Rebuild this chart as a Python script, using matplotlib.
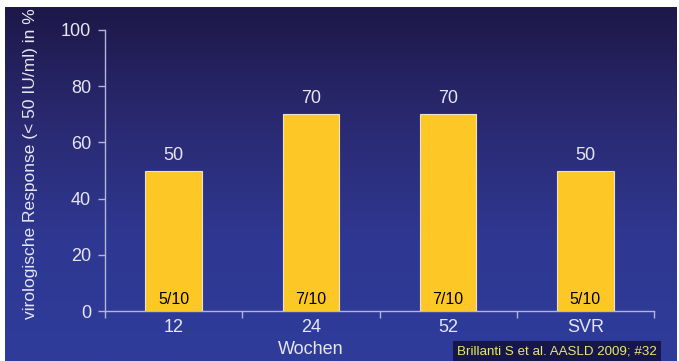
import numpy as np
import matplotlib.pyplot as plt
from matplotlib.colors import LinearSegmentedColormap

plt.rcParams["font.family"] = ["Liberation Sans", "DejaVu Sans"]

categories = ["12", "24", "52", "SVR"]
response = [50, 70, 70, 50]
counts = ["5/10", "7/10", "7/10", "5/10"]
yticks = [0, 20, 40, 60, 80, 100]

W, H = 679, 361
fig = plt.figure(figsize=(W / 100, H / 100), dpi=100, facecolor="white")

# slide background: dark navy at the top fading to a brighter blue
bg = fig.add_axes([5 / W, 0, 1 - 7 / W, 1 - 7 / H])
bg.set_axis_off()
grad_cmap = LinearSegmentedColormap.from_list(
    "slide", ["#1d1848", "#2a2a72", "#2f3892", "#2e3c9a"])
bg.imshow(np.linspace(0, 1, 256).reshape(-1, 1), aspect="auto", cmap=grad_cmap,
          extent=[0, 1, 0, 1], origin="upper")
bg.set_xlim(0, 1)
bg.set_ylim(0, 1)

ax = fig.add_axes([105 / W, 1 - 311 / H, (654 - 105) / W, (311 - 30) / H])
ax.patch.set_alpha(0)

axis_col = "#b4b6d8"
text_col = "#e6e6f2"

x = np.arange(len(categories))
bars = ax.bar(x, response, width=0.41, color="#fdc826", edgecolor="#e8e4d0",
              linewidth=0.8, zorder=3)

for b, v, c in zip(bars, response, counts):
    cx = b.get_x() + b.get_width() / 2
    ax.annotate(str(v), (cx, v), xytext=(0, 5), textcoords="offset points",
                ha="center", va="bottom", fontsize=13, color=text_col)
    ax.annotate(c, (cx, 0), xytext=(0, 3), textcoords="offset points",
                ha="center", va="bottom", fontsize=11.5, color="black", zorder=4)

ax.set_xlim(-0.5, len(categories) - 0.5)
ax.set_ylim(0, 100)
ax.set_yticks(yticks)
ax.set_xticks(x)
ax.set_xticklabels(categories)
ax.set_xticks(np.arange(len(categories) + 1) - 0.5, minor=True)
ax.tick_params(axis="x", which="major", length=0, pad=6, labelsize=13, labelcolor=text_col)
ax.tick_params(axis="x", which="minor", length=5, width=1, color=axis_col)
ax.tick_params(axis="y", length=5, width=1, color=axis_col, pad=5,
               labelsize=13, labelcolor=text_col)

for side in ["top", "right"]:
    ax.spines[side].set_visible(False)
for side in ["left", "bottom"]:
    ax.spines[side].set_color(axis_col)
    ax.spines[side].set_linewidth(1)

fig.text(31 / W, 1 - 164 / H, "virologische Response (< 50 IU/ml) in %",
         rotation=90, ha="center", va="center", fontsize=12.5, color=text_col)
fig.text(311 / W, 1 - 349 / H, "Wochen", ha="center", va="center",
         fontsize=13, color=text_col)

fig.text(457 / W, 1 - 351 / H, "Brillanti S et al. AASLD 2009; #32",
         ha="left", va="center", fontsize=9.6, color="#e8e870",
         bbox=dict(boxstyle="square,pad=0.3", facecolor="#16164c", edgecolor="none"))

fig.savefig("out.png", dpi=100, facecolor="white")
